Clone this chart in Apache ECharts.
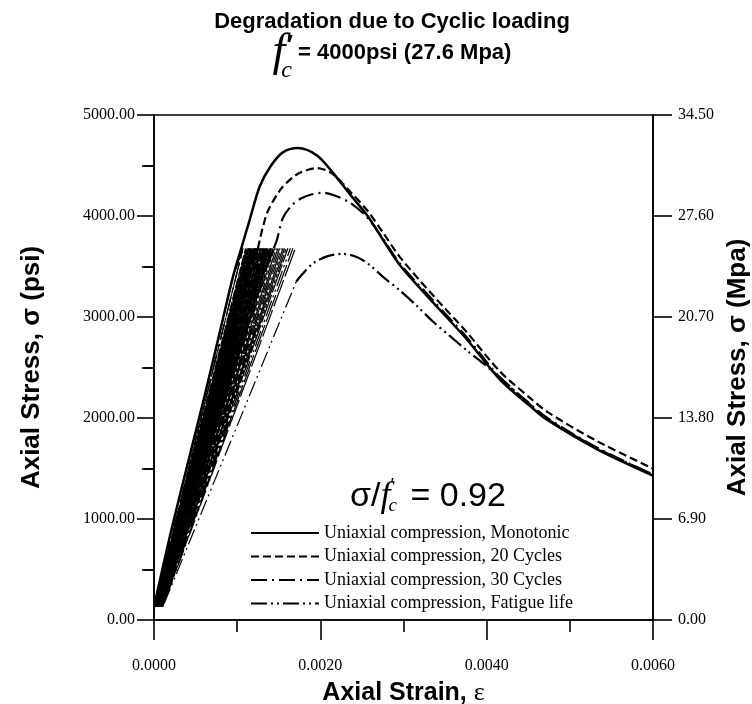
<!DOCTYPE html>
<html><head><meta charset="utf-8">
<script src="https://cdn.jsdelivr.net/npm/echarts@6/dist/echarts.min.js"></script>
<style>html,body{margin:0;padding:0;background:#fff}#c{width:752px;height:704px}</style>
</head><body><div id="c"></div>
<script>
// ---- axis ticks ----
const strainTicks = [0, 0.002, 0.004, 0.006];
const psiTicks = [0, 1000, 2000, 3000, 4000, 5000];
const mpaTicks = [0, 6.9, 13.8, 20.7, 27.6, 34.5];

// ---- series names ----
const seriesNames = [
  'Uniaxial compression, Monotonic',
  'Uniaxial compression, 20 Cycles',
  'Uniaxial compression, 30 Cycles',
  'Uniaxial compression, Fatigue life'
];

// ---- monotonic curve [strain, psi] ----
const monotonic = [[0,130],[0.0002,860],[0.0004,1530],[0.0006,2190],[0.0008,2880],[0.00095,3400],[0.00106,3710],
  [0.00115,3960],[0.00127,4290],[0.0014,4490],[0.00155,4630],[0.00173,4673],[0.00196,4600],[0.00215,4430],
  [0.00236,4210],[0.00256,4010],[0.00275,3770],[0.00296,3510],[0.00336,3140],[0.00376,2780],[0.00416,2380],
  [0.00452,2120],[0.00473,1980],[0.00533,1690],[0.006,1430]];

// ---- cyclic loading (stress limits and first loading) ----
const cyclicMaxStress = 3680;
const cyclicMinStress = 130;
const firstLoading = [[0,130],[0.0002,860],[0.0004,1530],[0.0006,2190],[0.0008,2880],[0.00095,3400]];

// 20 cycles
const c20Peaks = [0.00107,0.00110,0.00112,0.00113,0.00114,0.00115,0.00116,0.00117,0.00118,0.00119,
  0.00120,0.001205,0.00121,0.001215,0.00122,0.001225,0.00123,0.00124,0.001245,0.00125];
const c20Valleys = [0.000005,0.00001,0.000012,0.000014,0.000016,0.000018,0.00002,0.000022,0.000024,0.000026,
  0.000028,0.00003,0.000032,0.000034,0.000036,0.000038,0.00004,0.000042,0.000044];
const c20Envelope = [[0.00125,3680],[0.00136,4030],[0.00152,4260],[0.00165,4370],[0.00176,4430],[0.00196,4475],
  [0.00215,4415],[0.00236,4240],[0.00256,4060],[0.00275,3840],[0.00296,3590],[0.00336,3210],[0.00376,2850],
  [0.00416,2460],[0.00452,2200],[0.00473,2060],[0.00533,1770],[0.006,1500]];

// 30 cycles
const c30Peaks = [0.00107,0.00111,0.00114,0.00116,0.00118,0.00120,0.00121,0.00122,0.00123,0.00124,
  0.00125,0.00126,0.00127,0.00128,0.00129,0.00130,0.00131,0.00132,0.00133,0.00134,
  0.00135,0.00136,0.00137,0.00138,0.00139,0.00140,0.00141,0.00142,0.00143,0.00144];
const c30Valleys = [0.000005,0.00001,0.000014,0.000017,0.00002,0.000022,0.000024,0.000026,0.000028,0.00003,
  0.000032,0.000034,0.000036,0.000038,0.00004,0.000042,0.000044,0.000046,0.000048,0.00005,
  0.000052,0.000054,0.000056,0.000058,0.00006,0.000062,0.000064,0.000066,0.000068];
const c30Envelope = [[0.00144,3680],[0.00148,3770],[0.00155,3980],[0.00165,4100],[0.00176,4170],[0.0019,4215],
  [0.00203,4230],[0.00218,4200],[0.00236,4130],[0.00256,3990],[0.00275,3780],[0.00296,3525],[0.00336,3160],
  [0.00376,2800],[0.00416,2400],[0.00452,2140],[0.00473,2000],[0.00533,1705],[0.006,1440]];

// fatigue life
const fatPeaks = [0.00107,0.00113,0.00118,0.00122,0.00125,0.00128,0.00131,0.00133,0.00135,0.00137,
  0.00139,0.00141,0.00143,0.00145,0.00147,0.00149,0.00151,0.00153,0.00155,0.00157,0.00159,0.00161,0.00164,0.00167,0.0017];
const fatValleys = [0.000005,0.00001,0.000015,0.00002,0.000025,0.00003,0.000034,0.000038,0.000042,0.000046,
  0.00005,0.000054,0.000058,0.000062,0.000066,0.00007,0.000074,0.000078,0.000082,0.000086,0.00009,0.000094,0.000098,0.000102,0.000106];
const fatEnvelope = [[0.00171,3350],[0.00178,3420],[0.00191,3530],[0.00208,3600],[0.00227,3625],[0.00245,3590],
  [0.0026,3510],[0.00275,3400],[0.00296,3260],[0.00316,3110],[0.00336,2950],[0.00356,2810],[0.00376,2670],
  [0.00396,2540],[0.00416,2400],[0.00452,2135],[0.00473,1990],[0.00533,1700],[0.006,1438]];

// ---- build cyclic paths ----
function buildLoops(peaks, valleys) {
  const pts = firstLoading.map(p => p.slice());
  pts.push([peaks[0], cyclicMaxStress]);
  for (let i = 1; i < peaks.length; i++) {
    pts.push([valleys[i - 1], cyclicMinStress]);
    pts.push([peaks[i], cyclicMaxStress]);
  }
  for (let i = peaks.length - 1; i < valleys.length; i++) pts.push([valleys[i], cyclicMinStress]);
  return pts;
}
const c20Loops = buildLoops(c20Peaks, c20Valleys);
const c30Loops = buildLoops(c30Peaks, c30Valleys);
const fatLoops = buildLoops(fatPeaks, fatValleys);
fatLoops.push(fatEnvelope[0].slice());

const SANS = '"Liberation Sans", Arial, sans-serif';
const SERIF = '"Liberation Serif", "Times New Roman", serif';
const styles = {
  mono: { color: '#000', width: 2.5, type: 'solid' },
  c20: { color: '#000', width: 2.2, type: [8, 4] },
  c30: { color: '#000', width: 2.2, type: [16, 5, 2, 5] },
  fat: { color: '#000', width: 2.2, type: [16, 4, 2, 4, 2, 4] }
};
function lineSeries(name, data, ls, smooth, w) {
  return {
    type: 'line', name, data, smooth, symbol: 'none', showSymbol: false,
    lineStyle: { color: ls.color, width: w || ls.width, type: ls.type, cap: 'butt' },
    itemStyle: { color: ls.color }, silent: true, xAxisIndex: 0, yAxisIndex: 0
  };
}

// ---- text layout helper ----
const mctx = document.createElement('canvas').getContext('2d');
function tw(font, s) { mctx.font = font; return mctx.measureText(s).width; }
function txt(x, y, text, font, align) {
  return { type: 'text', x, y, silent: true,
    style: { text, font, fill: '#000', textAlign: align || 'left', align: align || 'left',
      textVerticalAlign: 'middle', verticalAlign: 'middle' } };
}
const graphics = [];
const titleCx = 392;
graphics.push(txt(titleCx, 22, 'Degradation due to Cyclic loading', 'bold 22px ' + SANS, 'center'));
(function () {
  const fF = 'italic 46px ' + SERIF, fC = 'italic 24px ' + SERIF;
  const fR = 'bold 22px ' + SANS, rest = '= 4000psi (27.6 Mpa)';
  const wf = tw(fF, 'f'), wc = tw(fC, 'c'), wr = tw(fR, rest);
  const total = wf + wc + 2 + wr;
  const x0 = titleCx - total / 2;
  graphics.push(txt(x0, 53, 'f', fF));
  graphics.push(txt(x0 + wf + 1, 46, '\u2032', 'bold 28px ' + SANS));
  graphics.push(txt(x0 + wf - 4, 71, 'c', fC));
  graphics.push(txt(x0 + wf + wc + 2, 53, rest, fR));
})();
(function () {
  const fS = '34px ' + SANS, fF = 'italic 36px ' + SERIF, fC = 'italic 19px ' + SERIF;
  const a = '\u03c3/', b = ' = 0.92';
  const wa = tw(fS, a), wf = tw(fF, 'f'), wc = tw(fC, 'c'), wb = tw(fS, b);
  const total = wa + wf + wc + 2 + wb;
  const x0 = 428 - total / 2, y = 497;
  graphics.push(txt(x0, y, a, fS));
  graphics.push(txt(x0 + wa, y, 'f', fF));
  graphics.push(txt(x0 + wa + wf, y - 11, '\u2032', '18px ' + SANS));
  graphics.push(txt(x0 + wa + wf - 2, y + 9, 'c', fC));
  graphics.push(txt(x0 + wa + wf + wc + 2, y, b, fS));
})();

const tickLbl = { fontFamily: SERIF, fontSize: 16, color: '#000' };
const axisNameStyle = { fontFamily: SANS, fontSize: 26, fontWeight: 'bold', color: '#000' };
const blackLine = { lineStyle: { color: '#000', width: 1.6 } };
const tickLine = { color: '#000', width: 1.6 };
const mpaMinor = mpaTicks.slice(1).map((v, i) => (v + mpaTicks[i]) / 2);

const option = {
  animation: false,
  backgroundColor: '#fff',
  grid: { left: 154, right: 99, top: 115, bottom: 84, show: true, borderColor: '#000', borderWidth: 1.6,
    containLabel: false, outerBoundsMode: 'none' },
  xAxis: [{
    type: 'value', min: strainTicks[0], max: strainTicks[strainTicks.length - 1],
    interval: strainTicks[1] - strainTicks[0], position: 'bottom',
    axisLine: { show: true, onZero: false, ...blackLine },
    axisTick: { show: true, length: 20, inside: false, lineStyle: tickLine },
    minorTick: { show: true, splitNumber: 2, length: 12, lineStyle: tickLine },
    splitLine: { show: false }, minorSplitLine: { show: false },
    axisLabel: { ...tickLbl, margin: 38, formatter: v => v.toFixed(4) },
    name: '{a|Axial Strain, }{b|\u03b5}', nameLocation: 'middle', nameGap: 60,
    nameTextStyle: { rich: { a: { ...axisNameStyle, fontSize: 25 }, b: { fontFamily: SERIF, fontSize: 26, color: '#000' } } }
  }],
  yAxis: [{
    type: 'value', min: psiTicks[0], max: psiTicks[psiTicks.length - 1], interval: psiTicks[1] - psiTicks[0],
    position: 'left',
    axisLine: { show: true, onZero: false, ...blackLine },
    axisTick: { show: true, length: 17, inside: false, lineStyle: tickLine },
    minorTick: { show: true, splitNumber: 2, length: 10, lineStyle: tickLine },
    splitLine: { show: false },
    axisLabel: { ...tickLbl, margin: 19, formatter: v => v.toFixed(2) },
    name: 'Axial Stress, \u03c3 (psi)', nameLocation: 'middle', nameGap: 109, nameRotate: 90,
    nameTextStyle: axisNameStyle
  }, {
    type: 'value', min: mpaTicks[0], max: mpaTicks[mpaTicks.length - 1], interval: mpaTicks[1] - mpaTicks[0],
    position: 'right',
    axisLine: { show: true, onZero: false, ...blackLine },
    axisTick: { show: true, length: 19, inside: false, lineStyle: tickLine },
    splitLine: { show: false },
    axisLabel: { ...tickLbl, margin: 25, formatter: v => v.toFixed(2) },
    name: 'Axial Stress, \u03c3 (Mpa)', nameLocation: 'middle', nameGap: 72, nameRotate: 90,
    nameTextStyle: axisNameStyle
  }, {
    type: 'value', min: mpaTicks[0], max: mpaTicks[mpaTicks.length - 1], interval: mpaTicks[1] - mpaTicks[0],
    position: 'right',
    axisLine: { show: false }, splitLine: { show: false },
    axisLabel: { show: false },
    axisTick: { show: true, inside: true, length: 12, customValues: mpaMinor, lineStyle: tickLine }
  }],
  legend: {
    orient: 'vertical', left: 245, top: 519, itemWidth: 68, itemHeight: 14, itemGap: 5.5,
    data: seriesNames, selectedMode: false,
    itemStyle: { opacity: 0, color: 'rgba(0,0,0,0)', borderWidth: 0 },
    lineStyle: { width: 2 },
    textStyle: { fontFamily: SERIF, fontSize: 18, color: '#000' }
  },
  graphic: graphics,
  series: [
    lineSeries(seriesNames[3], fatLoops, styles.fat, false, 1.2),
    lineSeries(seriesNames[3], fatEnvelope, styles.fat, 0.3),
    lineSeries(seriesNames[2], c30Loops, styles.c30, false, 1.2),
    lineSeries(seriesNames[2], c30Envelope, styles.c30, 0.3),
    lineSeries(seriesNames[1], c20Loops, styles.c20, false, 1.2),
    lineSeries(seriesNames[1], c20Envelope, styles.c20, 0.3),
    lineSeries(seriesNames[0], monotonic, styles.mono, 0.3)
  ]
};
const chart = echarts.init(document.getElementById('c'));
chart.setOption(option);
</script></body></html>
